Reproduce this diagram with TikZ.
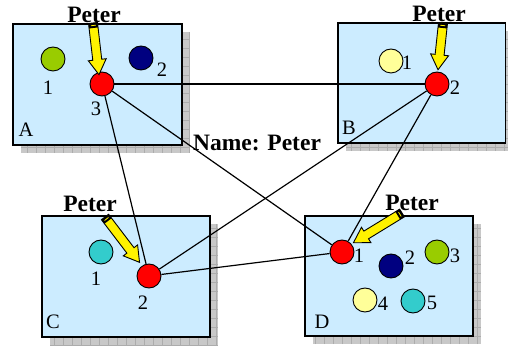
\documentclass[tikz,border=0pt]{standalone}
\usepackage{fontspec}
\setmainfont{Liberation Serif}
\definecolor{dgreen}{RGB}{153,204,0}
\definecolor{dnavy}{RGB}{0,0,128}
\definecolor{dred}{RGB}{255,0,0}
\definecolor{dyel}{RGB}{255,255,153}
\definecolor{dcyan}{RGB}{51,204,204}
\definecolor{boxblue}{RGB}{204,236,255}
\definecolor{shgray}{RGB}{200,200,200}
\tikzset{
  box/.style={draw=black, line width=1.2pt, fill=boxblue},
  shadowbox/.style={fill=shgray},
  dot/.style={circle, draw=black, line width=0.9pt, minimum size=24pt, inner sep=0pt},
  num/.style={font=\fontsize{20.5}{22}\selectfont, inner sep=0pt},
  who/.style={font=\fontsize{23.5}{25}\selectfont\bfseries, inner sep=0pt},
  link/.style={draw=black, line width=1.2pt},
}
\newcommand\yarr[3]{%
  \begin{scope}[shift={(#1)}, rotate=#2]
    \draw[fill=yellow, line width=0.9pt, line join=miter]
      (0,-4.5) -- ({#3-15},-4.5) -- ({#3-15},-9) -- (#3,0) -- ({#3-15},9) -- ({#3-15},4.5) -- (0,4.5) -- cycle;
    \fill[black] (0,-4.5) rectangle (5,4.5);
    \draw[yellow, line width=0.8pt] (2.5,-2.5) -- (2.5,2.5);
  \end{scope}}
\newcommand\shbox[4]{%
  \begin{scope}
    \fill[shadowbox] ({#1+8},{#2-8}) rectangle ({#3+8},{#4-8});
    \clip ({#1+8},{#2-8}) rectangle ({#3+8},{#4-8});
    \draw[gray!65, line width=0.4pt, step=9pt] ({#1+8},{#2-8}) grid ({#3+8},{#4-8});
  \end{scope}
  \draw[box] (#1,#2) rectangle (#3,#4);}
\begin{document}
\begin{tikzpicture}[x=1pt, y=1pt]
\useasboundingbox (0,0) rectangle (508,345);
% boxes
\shbox{13}{200}{182}{321}
\shbox{338}{202}{505.5}{322}
\shbox{42}{8}{210}{129}
\shbox{305}{9}{473}{129}
% box letters
\node[num] (la) at (26,215) {A};
\node[num] (lb) at (349,217) {B};
\node[num] (lc) at (53,23) {C};
\node[num] (ld) at (322,23) {D};
% circles in A
\node[dot, fill=dgreen] (a1) at (53,286) {};
\node[dot, fill=dnavy] (a2) at (141,287) {};
\node[dot, fill=dred] (a3) at (102,261) {};
\node[num] (ta1) at (48,257) {1};
\node[num] (ta2) at (162,275) {2};
\node[num] (ta3) at (96,236) {3};
% circles in B
\node[dot, fill=dyel] (b1) at (391,284) {};
\node[dot, fill=dred] (b2) at (437,261) {};
\node[num] (tb1) at (407,282) {1};
\node[num] (tb2) at (455,257) {2};
% circles in C
\node[dot, fill=dcyan] (c1) at (101,93) {};
\node[dot, fill=dred] (c2) at (149,69) {};
\node[num] (tc1) at (96,66) {1};
\node[num] (tc2) at (143,42) {2};
% circles in D
\node[dot, fill=dred] (d1) at (342,93) {};
\node[dot, fill=dnavy] (d2) at (391,79) {};
\node[dot, fill=dgreen] (d3) at (437,93) {};
\node[dot, fill=dyel] (d4) at (365,45) {};
\node[dot, fill=dcyan] (d5) at (413,44) {};
\node[num] (td1) at (359,89) {1};
\node[num] (td2) at (410,87) {2};
\node[num] (td3) at (455,89) {3};
\node[num] (td4) at (383,41) {4};
\node[num] (td5) at (432,42) {5};
% links
\draw[link] (a3) -- (b2);
\draw[link] (a3) -- (c2);
\draw[link] (a3) -- (d1);
\draw[link] (b2) -- (c2);
\draw[link] (b2) -- (d1);
\draw[link] (c2) -- (d1);
% names
\node[who] (pa) at (94,330) {Peter};
\node[who] (pb) at (439,331) {Peter};
\node[who] (pc) at (90,141) {Peter};
\node[who] (pd) at (412,142) {Peter};
\node[who] (nm) at (257,202) {Name: Peter};
% arrows
\coordinate (ya) at (93,322);
\coordinate (yb) at (443,322);
\coordinate (yc) at (105,128);
\coordinate (yd) at (402,132);
\yarr{ya}{-83.4}{52}
\yarr{yb}{-96.1}{47}
\yarr{yc}{-52.7}{57}
\yarr{yd}{-148.5}{57}
\end{tikzpicture}
\end{document}
